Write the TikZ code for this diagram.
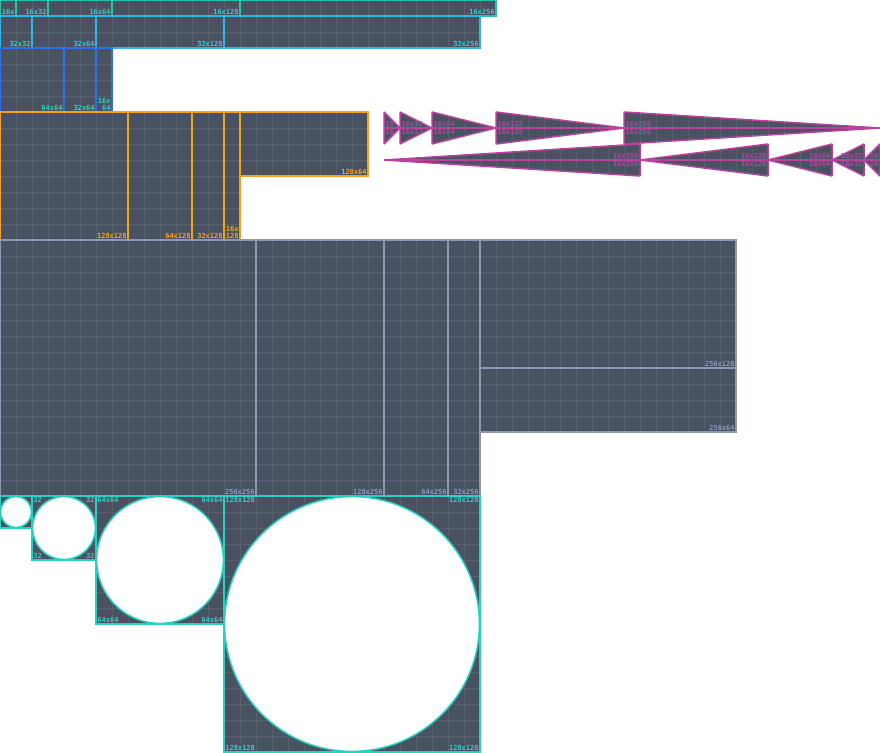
\documentclass[tikz,border=0pt]{standalone}
\usepackage{fontspec}
\newfontfamily\pixfont{DejaVu Sans Mono}
\definecolor{slate}{HTML}{4A5261}
\definecolor{slategrid}{HTML}{565F6C}
\definecolor{rowteal}{HTML}{22C4AE}
\definecolor{rowsky}{HTML}{2AB6E6}
\definecolor{rowblue}{HTML}{2C70EC}
\definecolor{roworange}{HTML}{F5A31C}
\definecolor{rowlav}{HTML}{8F97B9}
\definecolor{rowmag}{HTML}{B8449E}
\definecolor{circteal}{HTML}{28D2C2}
\definecolor{tagteal}{HTML}{2DD0C6}
\tikzset{
  tilebg/.style={fill=slate},
  gridline/.style={draw=slategrid,line width=0.9pt},
  rim/.style={draw=#1,line width=1.5pt},
  tag/.style={text=#1,font=\pixfont\bfseries\fontsize{7}{6.6}\selectfont,inner sep=1.2pt,align=right}
}
% grid of 16 cells: x, y, width, height
\newcommand{\cells}[4]{%
  \foreach \gx in {0,16,...,#3} \draw[gridline] ({#1+\gx},#2) -- ++(0,#4);
  \foreach \gy in {0,16,...,#4} \draw[gridline] (#1,{#2+\gy}) -- ++(#3,0);
}
% one sprite: x, y, width, height, rim colour, tag colour, tag
\newcommand{\sprite}[7]{%
  \fill[tilebg] (#1,#2) rectangle ++(#3,#4);
  \cells{#1}{#2}{#3}{#4}
  \draw[rim=#5] (#1,#2) rectangle ++(#3,#4);
  \node[tag=#6,anchor=south east] (s-#1-#2) at ({#1+#3},{#2+#4}) {#7};
}
% round sprite: x, y, size, corner tag
\newcommand{\roundsprite}[4]{%
  \fill[tilebg] (#1,#2) rectangle ++(#3,#3);
  \cells{#1}{#2}{#3}{#3}
  \draw[rim=circteal,fill=white] ({#1+#3/2},{#2+#3/2}) circle ({#3/2-0.6});
  \draw[rim=circteal] (#1,#2) rectangle ++(#3,#3);
  \node[tag=tagteal,anchor=north west] (c-#1-nw) at (#1,#2) {#4};
  \node[tag=tagteal,anchor=north east] (c-#1-ne) at ({#1+#3},#2) {#4};
  \node[tag=tagteal,anchor=south west] (c-#1-sw) at (#1,{#2+#3}) {#4};
  \node[tag=tagteal,anchor=south east] (c-#1-se) at ({#1+#3},{#2+#3}) {#4};
}
% wedge pointing right: base x, length, tag
\newcommand{\wedgeright}[3]{%
  \begin{scope}
    \clip (#1,112) -- (#1,144) -- ({#1+#2},128) -- cycle;
    \fill[tilebg] (#1,112) rectangle ++(#2,32);
    \cells{#1}{112}{#2}{32}
  \end{scope}
  \draw[rim=rowmag,line join=bevel] (#1,112) -- (#1,144) -- ({#1+#2},128) -- cycle;
  \node[tag=rowmag,anchor=south west,inner sep=1.5pt] (wr-#1-a) at (#1,128) {#3};
  \node[tag=rowmag,anchor=north west,inner sep=1.5pt] (wr-#1-b) at (#1,128) {#3};
}
% wedge pointing left: base x, length, tag
\newcommand{\wedgeleft}[3]{%
  \begin{scope}
    \clip (#1,144) -- (#1,176) -- ({#1-#2},160) -- cycle;
    \fill[tilebg] ({#1-#2},144) rectangle (#1,176);
    \cells{#1-#2}{144}{#2}{32}
  \end{scope}
  \draw[rim=rowmag,line join=bevel] (#1,144) -- (#1,176) -- ({#1-#2},160) -- cycle;
  \node[tag=rowmag,anchor=south east,inner sep=1.5pt] (wl-#1-a) at (#1,160) {#3};
  \node[tag=rowmag,anchor=north east,inner sep=1.5pt] (wl-#1-b) at (#1,160) {#3};
}
\begin{document}
\begin{tikzpicture}[x=1pt,y=-1pt]
  \useasboundingbox[fill=white] (0,0) rectangle (880,752);

  % 16 high
  \sprite{0}{0}{16}{16}{rowteal}{tagteal}{16x}
  \sprite{16}{0}{32}{16}{rowteal}{tagteal}{16x32}
  \sprite{48}{0}{64}{16}{rowteal}{tagteal}{16x64}
  \sprite{112}{0}{128}{16}{rowteal}{tagteal}{16x128}
  \sprite{240}{0}{256}{16}{rowteal}{tagteal}{16x256}

  % 32 high
  \sprite{0}{16}{32}{32}{rowsky}{tagteal}{32x32}
  \sprite{32}{16}{64}{32}{rowsky}{tagteal}{32x64}
  \sprite{96}{16}{128}{32}{rowsky}{tagteal}{32x128}
  \sprite{224}{16}{256}{32}{rowsky}{tagteal}{32x256}

  % 64 high
  \sprite{0}{48}{64}{64}{rowblue}{tagteal}{64x64}
  \sprite{64}{48}{32}{64}{rowblue}{tagteal}{32x64}
  \sprite{96}{48}{16}{64}{rowblue}{tagteal}{16x\\64}

  % 128 high
  \sprite{0}{112}{128}{128}{roworange}{roworange}{128x128}
  \sprite{128}{112}{64}{128}{roworange}{roworange}{64x128}
  \sprite{192}{112}{32}{128}{roworange}{roworange}{32x128}
  \sprite{224}{112}{16}{128}{roworange}{roworange}{16x\\128}
  \sprite{240}{112}{128}{64}{roworange}{roworange}{128x64}

  % 256 high
  \sprite{0}{240}{256}{256}{rowlav}{rowlav}{256x256}
  \sprite{256}{240}{128}{256}{rowlav}{rowlav}{128x256}
  \sprite{384}{240}{64}{256}{rowlav}{rowlav}{64x256}
  \sprite{448}{240}{32}{256}{rowlav}{rowlav}{32x256}
  \sprite{480}{240}{256}{128}{rowlav}{rowlav}{256x128}
  \sprite{480}{368}{256}{64}{rowlav}{rowlav}{256x64}

  % wedges
  \wedgeright{384}{16}{16}
  \wedgeright{400}{32}{16x32}
  \wedgeright{432}{64}{16x64}
  \wedgeright{496}{128}{16x128}
  \wedgeright{624}{256}{16x256}
  \wedgeleft{640}{256}{16x256}
  \wedgeleft{768}{128}{16x128}
  \wedgeleft{832}{64}{16x64}
  \wedgeleft{864}{32}{16x32}
  \wedgeleft{880}{16}{16}
  \coordinate (ra) at (384,128);
  \coordinate (rb) at (880,128);
  \coordinate (la) at (384,160);
  \coordinate (lb) at (880,160);
  \draw[rowmag,line width=1.5pt] (ra) -- (rb);
  \draw[rowmag,line width=1.5pt] (la) -- (lb);

  % circles
  \roundsprite{0}{496}{32}{}
  \roundsprite{32}{496}{64}{32}
  \roundsprite{96}{496}{128}{64x64}
  \roundsprite{224}{496}{256}{128x128}
\end{tikzpicture}
\end{document}
